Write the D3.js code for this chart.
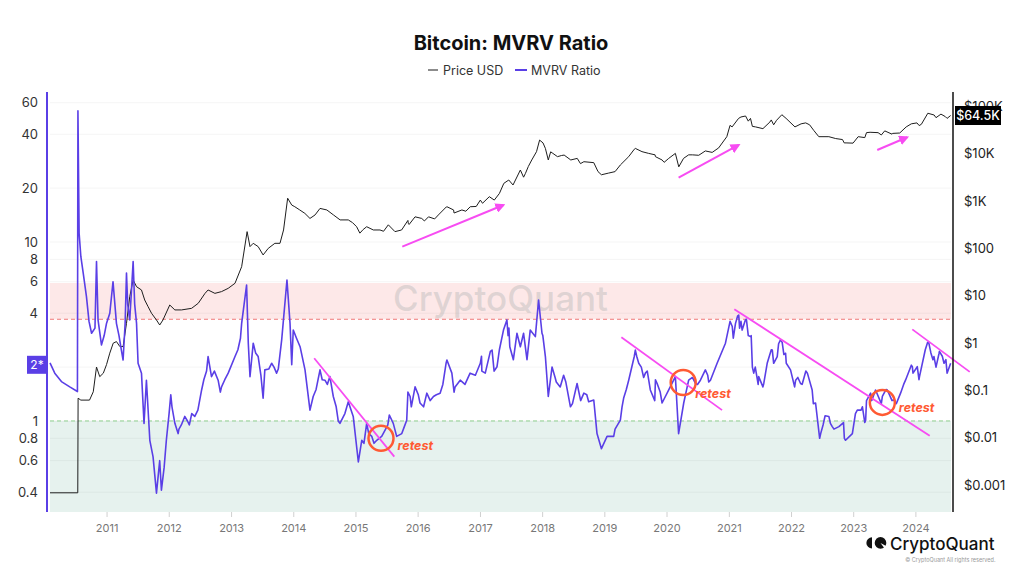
<!DOCTYPE html>
<html><head><meta charset="utf-8">
<script src="https://cdn.jsdelivr.net/npm/d3@7"></script>
<style>
body{margin:0;background:#fff;}
svg{display:block;font-family:Inter,"Noto Sans",sans-serif;}
</style>
</head><body>
<svg id="chart" width="1024" height="576"></svg>
<script>
// ---------------- DATA ----------------
const title = "Bitcoin: MVRV Ratio";
const seriesNames = ["Price USD", "MVRV Ratio"];

const mvrvDates = ["2010-02-03","2010-03-03","2010-04-11","2010-05-30","2010-07-14","2010-07-17","2010-07-24","2010-08-03","2010-08-17","2010-09-05","2010-09-20","2010-10-05","2010-10-25","2010-11-03","2010-11-12","2010-12-02","2010-12-18",
"2011-01-01","2011-01-20","2011-02-08","2011-02-28","2011-03-15","2011-03-29","2011-04-08","2011-04-20","2011-04-28","2011-05-05","2011-05-17","2011-05-28","2011-06-06","2011-06-15","2011-06-26","2011-07-05","2011-07-25","2011-08-09","2011-08-23","2011-09-12","2011-10-01","2011-10-21","2011-11-09","2011-11-19","2011-12-05","2011-12-18",
"2012-01-13","2012-02-06","2012-02-25","2012-03-15","2012-04-04","2012-05-01","2012-06-02","2012-07-12","2012-08-19","2012-09-08","2012-10-17","2012-11-06","2012-12-15",
"2013-01-24","2013-03-04","2013-04-02","2013-04-12","2013-04-22","2013-05-11","2013-06-09","2013-07-08","2013-07-18","2013-08-27","2013-09-25","2013-10-25","2013-11-25","2013-12-13","2013-12-23",
"2014-01-01","2014-01-20","2014-02-10","2014-03-11","2014-04-09","2014-04-28","2014-06-07","2014-07-06","2014-08-04","2014-08-24","2014-10-02","2014-10-31","2014-11-20","2014-12-19",
"2015-01-18","2015-02-07","2015-03-08","2015-04-07","2015-05-06","2015-06-04","2015-06-24","2015-07-19","2015-08-11","2015-08-31","2015-09-30","2015-10-29","2015-11-18","2015-12-17",
"2016-01-15","2016-02-24","2016-04-03","2016-05-12","2016-06-21","2016-07-20","2016-08-08","2016-09-07","2016-11-04",
"2017-01-03","2017-02-01","2017-03-13","2017-04-11","2017-05-19","2017-06-08","2017-06-25","2017-07-16","2017-08-06","2017-08-26","2017-09-14","2017-10-04","2017-10-23","2017-11-22","2017-12-11","2017-12-31",
"2018-01-20","2018-02-06","2018-02-28","2018-03-18","2018-04-17","2018-05-07","2018-06-16","2018-07-25","2018-09-03","2018-10-01","2018-10-31","2018-11-19","2018-12-15",
"2019-01-17","2019-02-25","2019-04-05","2019-04-15","2019-05-24","2019-07-02","2019-07-22","2019-08-30","2019-09-28","2019-11-07","2019-12-06",
"2020-01-14","2020-02-22","2020-03-12","2020-04-11","2020-05-10","2020-06-19","2020-07-18","2020-08-16","2020-09-15","2020-10-24","2020-12-12",
"2021-01-21","2021-02-09","2021-02-28","2021-03-20","2021-04-08","2021-05-08","2021-05-27","2021-06-25","2021-07-25","2021-08-14","2021-09-13","2021-10-12","2021-10-31","2021-11-30","2021-12-29",
"2022-01-28","2022-02-26","2022-04-07","2022-05-05","2022-05-25","2022-06-24","2022-08-11","2022-08-31","2022-10-09","2022-11-17","2022-12-27",
"2023-01-25","2023-02-24","2023-03-15","2023-04-13","2023-05-12","2023-06-21","2023-07-20","2023-08-28","2023-10-06","2023-11-04","2023-12-14",
"2024-01-12","2024-01-25","2024-03-20","2024-04-19","2024-05-19","2024-06-17","2024-06-28","2024-07-05","2024-07-26"];
const mvrvValues = [2.11,1.85,1.66,1.55,1.46,54,11.2,8.3,6.7,4.95,3.6,3.09,3.3,7.77,3.67,2.66,3.0,
3.52,4.0,6.0,3.51,3.0,2.49,2.19,3.5,6.7,4.5,3.67,5.5,7.77,4.5,3.51,2.1,1.85,0.97,1.69,0.78,0.63,0.395,0.6,0.41,0.55,0.78,
1.4,0.97,0.85,0.95,1.06,0.95,1.06,1.49,2.29,1.77,1.69,1.55,1.85,
2.29,3.51,5.75,2.72,1.77,2.72,2.29,1.34,1.93,2.1,1.85,2.84,6.13,3.51,2.06,
3.22,2.9,2.6,1.93,1.15,1.37,1.93,1.69,1.77,1.37,0.97,1.1,1.28,1.06,
0.59,0.78,0.97,0.82,0.78,0.82,0.89,1.08,0.97,0.82,0.85,1.01,1.37,1.55,
1.26,1.43,1.37,1.43,2.19,1.85,1.55,1.69,1.85,
2.1,1.85,2.49,2.01,3.22,3.67,2.6,2.2,3.09,2.6,3.09,2.2,3.22,2.96,4.74,3.09,
2.29,1.37,2.0,1.75,1.55,1.8,1.2,1.62,1.43,1.28,1.31,0.85,0.70,
0.82,0.82,1.01,1.2,1.69,2.49,2.1,1.85,1.49,1.62,1.26,
1.49,1.77,0.85,1.26,1.69,1.62,1.69,1.93,1.69,2.1,2.72,
3.37,3.51,3.91,3.22,3.67,2.96,1.85,1.77,1.62,2.1,2.49,2.29,2.84,2.39,1.93,
1.69,1.62,1.85,1.49,1.26,0.85,1.06,0.93,0.93,0.78,0.85,
1.15,1.2,1.01,1.43,1.49,1.37,1.49,1.31,1.43,1.69,2.01,
2.01,1.77,2.72,2.29,2.39,2.1,2.2,1.85,2.1];

// extra intermediate readings (short-term swings) for the MVRV line
const mvrvDetailDates = ["2012-01-03","2012-01-20","2012-03-01","2012-04-20","2012-05-15","2012-06-20","2012-07-25","2012-08-10","2012-09-25","2012-10-30","2012-11-25",
"2013-02-10","2013-02-25","2013-05-25","2013-06-25","2013-08-10","2013-09-10","2013-10-05",
"2014-05-15","2014-06-20","2014-07-20","2014-09-10","2014-09-22",
"2015-02-20","2015-03-20","2015-04-20","2015-05-20","2015-07-10","2015-10-15","2015-11-05","2015-11-25",
"2016-01-05","2016-02-05","2016-03-15","2016-04-20","2016-05-28","2016-06-16","2016-08-02","2016-10-05","2016-12-05",
"2017-01-10","2017-01-12","2017-03-03","2017-03-25","2017-04-25","2017-06-15","2017-06-20",
"2018-01-05","2018-03-25","2018-05-20","2018-06-28","2018-08-15","2018-09-20",
"2019-03-05","2019-04-25","2019-05-10","2019-06-26","2019-07-10","2019-08-06","2019-08-20","2019-09-10","2019-10-24","2019-10-28","2019-11-25",
"2020-06-01","2020-07-01","2020-08-30","2020-09-05",
"2021-01-08","2021-01-27","2021-02-21","2021-03-05","2021-03-13","2021-04-14","2021-04-25","2021-05-12","2021-05-19","2021-06-05","2021-06-22","2021-07-20","2021-09-07","2021-09-21","2021-10-20","2021-11-10","2021-11-20","2021-12-04",
"2022-01-22","2022-02-10","2022-03-07","2022-03-29","2022-05-12","2022-06-18","2022-07-08","2022-07-20","2022-08-20","2022-09-10","2022-11-05","2022-11-10",
"2023-01-14","2023-02-16","2023-03-10","2023-03-20","2023-04-20","2023-06-15","2023-07-13","2023-08-17","2023-09-11","2023-10-24","2023-12-08","2023-12-18",
"2024-01-22","2024-02-28","2024-03-13","2024-04-01","2024-04-13","2024-05-01","2024-05-21","2024-06-07"];
const mvrvDetailValues = [1.1,1.2,0.9,1.0,1.1,1.15,1.7,1.9,1.9,1.45,1.7,
2.5,2.9,2.4,1.8,1.95,2.0,1.95,
1.5,1.7,1.6,1.2,1.0,
0.75,0.85,0.75,0.8,0.95,0.93,1.45,1.2,
1.4,1.2,1.3,1.4,1.6,2.1,1.45,1.6,1.8,
2.3,1.9,2.45,1.9,2.5,3.0,3.3,
3.0,1.65,1.65,1.25,1.3,1.4,
0.9,1.35,1.5,2.3,2.3,2.0,1.75,1.9,1.3,1.7,1.45,
1.75,1.6,1.8,1.65,
3.6,2.9,3.85,3.3,3.6,3.7,3.0,3.0,2.0,2.0,1.6,1.55,2.5,2.1,2.7,2.75,2.35,2.1,
1.55,1.75,1.6,1.9,1.25,0.8,0.95,1.07,0.97,0.9,0.98,0.8,
1.1,1.15,0.98,1.3,1.3,1.25,1.5,1.3,1.25,1.6,2.05,1.85,
1.7,2.5,2.75,2.4,2.2,2.0,2.45,2.3];

const priceDates = ["2010-02-03","2010-07-16","2010-07-18","2010-08-03","2010-09-23","2010-10-15","2010-11-03","2010-11-22","2010-12-13",
"2011-01-01","2011-01-20","2011-02-09","2011-02-28","2011-03-20","2011-04-08","2011-04-28","2011-05-17","2011-06-06","2011-06-26","2011-07-25","2011-08-13","2011-09-02","2011-09-22","2011-10-21","2011-11-09","2011-11-28",
"2012-01-07","2012-02-06","2012-03-16","2012-05-14","2012-06-22","2012-08-01","2012-08-19","2012-09-28","2012-11-06","2012-12-15",
"2013-01-24","2013-03-04","2013-04-05","2013-04-22","2013-05-11","2013-06-09","2013-07-08","2013-08-07","2013-09-15","2013-10-15","2013-11-05","2013-11-29","2013-12-23",
"2014-01-10","2014-02-08","2014-03-10","2014-04-09","2014-05-09","2014-06-07","2014-07-17","2014-08-25","2014-10-03","2014-11-20",
"2015-01-08","2015-01-27","2015-03-08","2015-04-16","2015-05-25","2015-07-13","2015-08-21","2015-09-29","2015-11-07","2015-12-17",
"2016-01-25","2016-03-05","2016-05-02","2016-06-21","2016-07-30","2016-09-17","2016-11-05",
"2017-01-03","2017-01-16","2017-02-25","2017-03-26","2017-04-25","2017-05-21","2017-06-19","2017-07-14","2017-08-26","2017-09-25","2017-11-01","2017-11-29","2017-12-17",
"2018-01-20","2018-02-06","2018-03-05","2018-04-01","2018-05-10","2018-06-18","2018-07-26","2018-09-03","2018-10-31","2018-11-25","2018-12-15",
"2019-01-25","2019-03-05","2019-04-05","2019-05-24","2019-07-02","2019-08-10","2019-09-18","2019-10-28","2019-12-06",
"2020-01-14","2020-02-22","2020-03-13","2020-04-10","2020-05-10","2020-07-08","2020-08-16","2020-09-25","2020-11-02","2020-12-20",
"2021-01-20","2021-02-27","2021-04-09","2021-05-08","2021-06-07","2021-07-20","2021-08-30","2021-10-08","2021-11-08","2021-12-03",
"2022-01-24","2022-03-28","2022-04-20","2022-05-15","2022-06-13","2022-08-11","2022-09-20","2022-10-30","2022-11-20","2022-12-31",
"2023-01-30","2023-03-10","2023-04-10","2023-05-27","2023-07-05","2023-08-20","2023-10-01","2023-11-08",
"2024-01-10","2024-02-05","2024-03-14","2024-04-20","2024-05-30","2024-06-25","2024-07-05","2024-07-26"];
const priceValues = [0.00068,0.00068,0.068,0.062,0.062,0.093,0.31,0.194,0.23,
0.35,0.61,0.99,1.07,0.84,0.84,2.6,9.5,21.5,15.5,13.2,8.1,5.85,4.25,3.06,2.4,3.06,
6.35,5.0,5.0,5.4,6.9,11.2,13.2,11.2,12.2,14.3,
18.3,41,226,109,128,109,72.6,100,128,128,245,1150,825,
760,650,550,430,510,700,650,510,400,400,
287,210,287,245,245,315,226,245,340,465,
430,465,510,760,650,650,760,
1050,900,1240,1050,1450,2370,2790,2190,4540,3860,7400,11100,19500,
13000,7400,10200,8700,9400,7400,8000,6800,6500,4200,3600,
3900,4200,5800,8700,13000,11100,10200,8700,7400,
8000,10200,5300,8000,9500,9300,11500,10700,13300,23000,
37000,56000,63000,56000,37000,34000,47000,51000,67000,56000,
37000,45000,41000,31000,23000,23000,21000,20000,17000,16800,
23000,22000,28500,28000,30500,27000,27500,37000,
45000,42000,72000,66000,69000,61000,56000,64500];

// extra intermediate readings for the price line
const priceDetailDates = ["2014-12-15","2015-02-15","2015-06-15","2015-11-05","2015-11-12","2016-02-10","2016-04-10","2016-06-17","2016-08-02","2016-10-10","2016-12-10",
"2017-09-14","2017-10-12","2018-01-06","2018-02-20","2018-04-25","2018-08-14","2019-06-26","2019-10-26","2019-12-18","2020-06-01",
"2021-01-08","2021-03-13","2021-04-25","2021-05-19","2021-09-07","2021-09-21","2022-03-01","2022-11-09","2023-03-20","2023-06-15","2023-08-17","2023-12-08","2024-01-23","2024-05-01"];
const priceDetailValues = [350,250,230,390,320,380,420,750,560,610,770,
3200,5400,17000,11000,9200,6200,12500,9500,6600,9500,
40000,60000,49000,38000,52000,41000,43000,17000,28000,25000,26000,43000,39500,58000];

const yearTicks = ["2011","2012","2013","2014","2015","2016","2017","2018","2019","2020","2021","2022","2023","2024"];
const mvrvTicks = [0.4,0.6,0.8,1,4,6,8,10,20,40,60];
const mvrvGrid = [0.4,0.6,0.8,1,2,4,6,8,10,20,40,60];
const priceTicks = [0.001,0.01,0.1,1,10,100,1000,10000,100000];
const priceTickLabels = ["$0.001","$0.01","$0.1","$1","$10","$100","$1K","$10K","$100K"];
const overheatLevel = 3.7, overheatTop = 5.9, undervaluedLevel = 1;
const currentMvrvLabel = "2*";
const currentPriceLabel = "$64.5K";

// annotations (date/value anchored)
const trendLines = [
  {d1:"2014-05-04",v1:2.24,d2:"2015-08-17",v2:0.632},
  {d1:"2019-04-11",v1:2.94,d2:"2020-11-22",v2:1.15},
  {d1:"2021-02-02",v1:4.21,d2:"2024-03-25",v2:0.828},
  {d1:"2023-12-14",v1:3.25,d2:"2024-11-15",v2:1.88}
];
const retestCircles = [
  {d:"2015-05-31",v:0.80,dx:16.5,dy:11.5},
  {d:"2020-04-08",v:1.64,dx:12,dy:15.5},
  {d:"2023-06-21",v:1.27,dx:16.5,dy:10}
];
const priceArrows = [
  {d1:"2015-10-03",v1:108.6,d2:"2017-05-19",v2:827},
  {d1:"2020-03-12",v1:3125,d2:"2021-02-28",v2:15350},
  {d1:"2023-05-22",v1:12030,d2:"2023-11-14",v2:22330}
];

// ---------------- CHART ----------------
const svg = d3.select("#chart");
const L = 50, R = 951, T = 93, B = 512;
const P = d => new Date(d + "T00:00:00Z");
const x = d3.scaleUtc().domain([P("2010-02-03"), P("2024-07-28")]).range([L, R]);
const yL = d3.scaleLog().domain([0.31, 68]).range([B, T]);
const yR = d3.scaleLog().domain([0.000267, 192900]).range([B, T]);

const purple = "#5a3fe6", magenta = "#f74cf2", orange = "#ff5a33";

// bands
svg.append("rect").attr("x", L).attr("width", R - L)
  .attr("y", yL(overheatTop)).attr("height", yL(overheatLevel) - yL(overheatTop)).attr("fill", "#fde8e8");
svg.append("rect").attr("x", L).attr("width", R - L)
  .attr("y", yL(undervaluedLevel)).attr("height", B - yL(undervaluedLevel)).attr("fill", "#e6f2ee");

// grid
svg.append("g").selectAll("line").data(mvrvGrid).join("line")
  .attr("x1", L).attr("x2", R).attr("y1", d => yL(d)).attr("y2", d => yL(d))
  .attr("stroke", "#000").attr("stroke-opacity", 0.045);

// watermark
svg.append("text").attr("x", (L + R) / 2).attr("y", 311).attr("text-anchor", "middle")
  .attr("font-size", 35).attr("font-weight", 500).attr("fill", "#b5b5b5").attr("fill-opacity", 0.42)
  .text("CryptoQuant");

// threshold dashed lines
svg.append("line").attr("x1", L).attr("x2", R).attr("y1", yL(overheatLevel)).attr("y2", yL(overheatLevel))
  .attr("stroke", "#f07a7a").attr("stroke-dasharray", "4,3").attr("stroke-width", 1);
svg.append("line").attr("x1", L).attr("x2", R).attr("y1", yL(undervaluedLevel)).attr("y2", yL(undervaluedLevel))
  .attr("stroke", "#8fd18f").attr("stroke-dasharray", "4,3").attr("stroke-width", 1);

// series
const build = (ds, vs, ds2, vs2) => ds.map((d, i) => ({date: P(d), v: vs[i]}))
  .concat(ds2.map((d, i) => ({date: P(d), v: vs2[i]})))
  .sort((a, b) => a.date - b.date);
const priceData = build(priceDates, priceValues, priceDetailDates, priceDetailValues);
const mvrvData = build(mvrvDates, mvrvValues, mvrvDetailDates, mvrvDetailValues);

svg.append("path").datum(priceData)
  .attr("d", d3.line().x(d => x(d.date)).y(d => yR(d.v)))
  .attr("fill", "none").attr("stroke", "#1e1e1e").attr("stroke-width", 1);
svg.append("path").datum(mvrvData)
  .attr("d", d3.line().x(d => x(d.date)).y(d => yL(d.v)))
  .attr("fill", "none").attr("stroke", purple).attr("stroke-width", 1.6).attr("stroke-linejoin", "round");

// annotations
svg.append("defs").append("marker").attr("id", "arr").attr("viewBox", "0 0 10 10")
  .attr("refX", 8).attr("refY", 5).attr("markerWidth", 5).attr("markerHeight", 5)
  .attr("orient", "auto").attr("markerUnits", "strokeWidth")
  .append("path").attr("d", "M0,0 L10,5 L0,10 Z").attr("fill", magenta);

svg.append("g").selectAll("line").data(trendLines).join("line")
  .attr("x1", d => x(P(d.d1))).attr("y1", d => yL(d.v1))
  .attr("x2", d => x(P(d.d2))).attr("y2", d => yL(d.v2))
  .attr("stroke", magenta).attr("stroke-width", 1.8);

svg.append("g").selectAll("line").data(priceArrows).join("line")
  .attr("x1", d => x(P(d.d1))).attr("y1", d => yR(d.v1))
  .attr("x2", d => x(P(d.d2))).attr("y2", d => yR(d.v2))
  .attr("stroke", magenta).attr("stroke-width", 2).attr("marker-end", "url(#arr)");

const rc = svg.append("g").selectAll("g").data(retestCircles).join("g");
rc.append("circle").attr("cx", d => x(P(d.d))).attr("cy", d => yL(d.v)).attr("r", 12.5)
  .attr("fill", "none").attr("stroke", orange).attr("stroke-width", 2.5);
rc.append("text").attr("x", d => x(P(d.d)) + d.dx).attr("y", d => yL(d.v) + d.dy)
  .attr("font-size", 12.5).attr("font-weight", 700).attr("font-style", "italic").attr("fill", orange)
  .text("retest");

// left axis
const gl = svg.append("g").attr("transform", `translate(47,0)`)
  .call(d3.axisLeft(yL).tickValues(mvrvTicks).tickFormat(d => d).tickSize(0).tickPadding(9));
gl.select(".domain").remove();
gl.selectAll("text").attr("font-size", 13).attr("fill", "#333").attr("font-family", "Inter,'Noto Sans',sans-serif");
svg.append("line").attr("x1", 47).attr("x2", 47).attr("y1", 92).attr("y2", B)
  .attr("stroke", purple).attr("stroke-width", 2);
const cm = yL(mvrvValues[mvrvValues.length - 1]) + 1.5;
svg.append("rect").attr("x", 27).attr("y", cm - 9).attr("width", 20).attr("height", 18).attr("fill", purple);
svg.append("text").attr("x", 37).attr("y", cm + 4.5).attr("text-anchor", "middle")
  .attr("font-size", 12).attr("fill", "#fff").text(currentMvrvLabel);

// right axis
const gr = svg.append("g").attr("transform", `translate(953,0)`)
  .call(d3.axisRight(yR).tickValues(priceTicks).tickFormat((d, i) => priceTickLabels[i]).tickSize(0).tickPadding(11));
gr.select(".domain").remove();
gr.selectAll("text").attr("font-size", 13).attr("fill", "#222").attr("font-family", "Inter,'Noto Sans',sans-serif");
svg.append("line").attr("x1", 953).attr("x2", 953).attr("y1", 92).attr("y2", B)
  .attr("stroke", "#111").attr("stroke-width", 1.5);
const cp = yR(priceValues[priceValues.length - 1]);
svg.append("rect").attr("x", 955).attr("y", cp - 9.5).attr("width", 46).attr("height", 19).attr("fill", "#000");
svg.append("text").attr("x", 978).attr("y", cp + 4.5).attr("text-anchor", "middle")
  .attr("font-size", 12.5).attr("font-weight", 500).attr("fill", "#fff").text(currentPriceLabel);

// bottom axis
const gb = svg.append("g").attr("transform", `translate(0,${B})`)
  .call(d3.axisBottom(x).tickValues(yearTicks.map(y => P(y + "-01-01"))).tickFormat(d3.utcFormat("%Y")).tickSize(5).tickPadding(7));
gb.select(".domain").remove();
gb.selectAll("line").attr("stroke", "#d0d0d0");
gb.selectAll("text").attr("font-size", 11).attr("fill", "#777").attr("font-family", "Inter,'Noto Sans',sans-serif");

// title & legend
svg.append("text").attr("x", 511).attr("y", 50).attr("text-anchor", "middle")
  .attr("font-size", 20).attr("font-weight", 700).attr("fill", "#111").text(title);
const lg = svg.append("g");
lg.append("line").attr("x1", 428).attr("x2", 438).attr("y1", 70).attr("y2", 70).attr("stroke", "#666").attr("stroke-width", 1.5);
lg.append("text").attr("x", 443).attr("y", 74.5).attr("font-size", 12.5).attr("fill", "#333").text(seriesNames[0]);
lg.append("line").attr("x1", 515).attr("x2", 527).attr("y1", 70).attr("y2", 70).attr("stroke", purple).attr("stroke-width", 2);
lg.append("text").attr("x", 531).attr("y", 74.5).attr("font-size", 12.5).attr("fill", "#333").text(seriesNames[1]);

// logo
const lo = svg.append("g");
lo.append("path").attr("d", "M872,537.3 A5.6,5.6 0 0 0 872,548.5 Z").attr("fill", "#111");
lo.append("circle").attr("cx", 880.5).attr("cy", 542.9).attr("r", 5.8).attr("fill", "#111");
lo.append("path").attr("d", "M880.5,542.9 L887,546.5 L885,549 Z").attr("fill", "#fff");
lo.append("text").attr("x", 890).attr("y", 550).attr("font-size", 17).attr("font-weight", 500)
  .attr("fill", "#111").text("CryptoQuant");
lo.append("text").attr("x", 995.5).attr("y", 561.5).attr("text-anchor", "end").attr("font-size", 5.5)
  .attr("fill", "#999").text("© CryptoQuant All rights reserved.");
</script>
</body></html>
